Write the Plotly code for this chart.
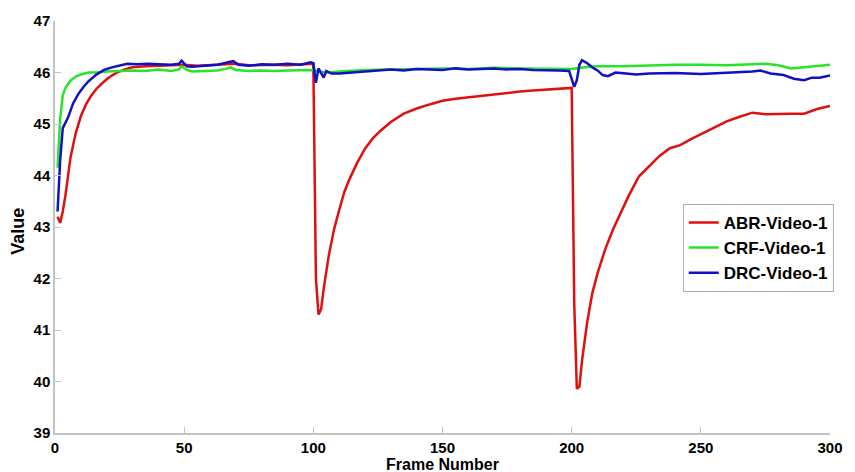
import plotly.graph_objects as go

# ---- data ----
abr_x = [1, 2, 3, 4, 6, 8, 10, 12, 14, 16, 18, 20, 22, 24, 27, 30, 35, 40, 45, 50,
         55, 60, 65, 70, 75, 80, 85, 90, 95, 100,
         101, 102, 103, 104, 106, 108, 110, 112, 114, 117, 120, 123, 126, 130, 135,
         140, 145, 150, 155, 160, 165, 170, 175, 180, 185, 190, 195, 200,
         201, 202, 203, 204, 206, 208, 210, 213, 216, 219, 222, 226, 230, 234, 238,
         242, 246, 250, 255, 260, 265, 270, 275, 280, 285, 290, 295, 300]
abr_y = [43.2, 43.08, 43.3, 43.6, 44.35, 44.82, 45.15, 45.38, 45.55, 45.68, 45.78, 45.87,
         45.94, 46.0, 46.06, 46.1, 46.12, 46.13, 46.14, 46.15,
         46.13, 46.14, 46.15, 46.17, 46.14, 46.15, 46.15, 46.14, 46.15, 46.17,
         42.0, 41.3, 41.4, 41.8, 42.45, 42.95, 43.33, 43.68, 43.93, 44.25, 44.52, 44.72,
         44.87, 45.04, 45.2, 45.3, 45.38, 45.45, 45.49, 45.52, 45.55, 45.58, 45.6, 45.63,
         45.65, 45.67, 45.68, 45.7,
         41.5, 39.86, 39.9, 40.4, 41.15, 41.72, 42.1, 42.57, 42.95, 43.27, 43.6, 43.98,
         44.18, 44.38, 44.53, 44.59, 44.7, 44.8, 44.92, 45.05, 45.14, 45.22, 45.19, 45.2,
         45.2, 45.2, 45.29, 45.35]

crf_x = [1, 2, 3, 4, 6, 8, 10, 13, 16, 20, 25, 30, 35, 40, 45, 48, 49, 51, 53, 58, 63,
         66, 68, 70, 75, 80, 85, 90, 95, 100, 102, 105, 110, 115, 120, 130, 140, 150,
         160, 170, 180, 190, 200, 205, 210, 220, 230, 240, 250, 260, 270, 275, 280,
         285, 290, 295, 300]
crf_y = [44.15, 45.1, 45.55, 45.7, 45.84, 45.92, 45.96, 46.0, 46.0, 46.02, 46.03, 46.04,
         46.03, 46.06, 46.03, 46.06, 46.12, 46.05, 46.02, 46.03, 46.04, 46.07, 46.1,
         46.05, 46.03, 46.04, 46.03, 46.04, 46.04, 46.05, 46.02, 46.0, 46.02, 46.04,
         46.05, 46.06, 46.07, 46.08, 46.07, 46.09, 46.08, 46.07, 46.07, 46.1, 46.12,
         46.12, 46.14, 46.15, 46.15, 46.14, 46.16, 46.17, 46.14, 46.08, 46.1, 46.12,
         46.15]

drc_x = [1, 2, 3, 4, 5, 7, 9, 11, 13, 16, 19, 22, 25, 28, 32, 36, 40, 45, 48, 49, 51,
         53, 58, 63, 67, 69, 71, 75, 80, 85, 90, 95, 99, 100, 101, 102, 104, 105, 107,
         110, 115, 120, 125, 130, 135, 140, 145, 150, 155, 160, 165, 170, 175, 180,
         185, 190, 195, 199, 201, 202, 203, 204, 206, 208, 210, 212, 214, 217, 220,
         225, 230, 240, 250, 260, 265, 270, 273, 277, 282, 286, 290, 293, 296, 300]
drc_y = [43.3, 44.3, 44.92, 45.02, 45.12, 45.4, 45.58, 45.72, 45.83, 45.96, 46.05, 46.1,
         46.14, 46.17, 46.16, 46.17, 46.16, 46.15, 46.17, 46.23, 46.12, 46.11, 46.13,
         46.15, 46.2, 46.22, 46.15, 46.13, 46.16, 46.15, 46.17, 46.15, 46.2, 46.18,
         45.8, 46.08, 45.9, 46.03, 45.98, 45.98, 46.0, 46.02, 46.03, 46.06, 46.04,
         46.07, 46.06, 46.05, 46.08, 46.06, 46.07, 46.08, 46.06, 46.07, 46.05, 46.05,
         46.04, 46.03, 45.72, 45.85, 46.15, 46.24, 46.18, 46.1, 46.04, 45.95, 45.93,
         46.0, 45.98, 45.96, 45.98, 45.99, 45.97, 45.99, 46.0, 46.02, 46.04, 45.98,
         45.95, 45.88, 45.85, 45.9, 45.9, 45.94]

series_names = ["ABR-Video-1", "CRF-Video-1", "DRC-Video-1"]
x_ticks = [0, 50, 100, 150, 200, 250, 300]
y_ticks = [39, 40, 41, 42, 43, 44, 45, 46, 47]

FONT = "Arial, Liberation Sans, sans-serif"
colors = ["rgb(222,16,16)", "rgb(40,228,40)", "rgb(16,16,196)"]

fig = go.Figure()
for name, xs, ys, c in zip(series_names, [abr_x, crf_x, drc_x],
                           [abr_y, crf_y, drc_y], colors):
    fig.add_trace(go.Scatter(x=xs, y=ys, mode="lines", name=name,
                             line=dict(color=c, width=2.5)))

axis_common = dict(showgrid=False, zeroline=False, showline=True,
                   linecolor="#c4c4c4", linewidth=1.5, ticks="inside",
                   ticklen=6, tickcolor="#c4c4c4", tickwidth=1.2,
                   tickfont=dict(family=FONT, size=15, color="black", weight="bold"))

fig.update_layout(
    width=855, height=472,
    margin=dict(l=55, r=18, t=16, b=39),
    plot_bgcolor="white", paper_bgcolor="white",
    xaxis=dict(range=[0, 300], tickvals=x_ticks, **axis_common),
    yaxis=dict(range=[39, 47], tickvals=y_ticks, **axis_common),
    legend=dict(x=0.81, y=0.556, xanchor="left", yanchor="top",
                bgcolor="white", bordercolor="#b0b0b0", borderwidth=1,
                font=dict(family=FONT, size=17, color="black", weight="bold"),
                tracegroupgap=0, itemwidth=30),
    showlegend=True,
    annotations=[
        dict(text="Frame Number", xref="paper", yref="paper", x=0.5, y=-0.076,
             xanchor="center", yanchor="middle", showarrow=False,
             font=dict(family=FONT, size=16, color="black", weight="bold")),
        dict(text="Value", xref="paper", yref="paper", x=-0.047, y=0.49,
             xanchor="center", yanchor="middle", showarrow=False, textangle=-90,
             font=dict(family=FONT, size=18, color="black", weight="bold")),
    ],
)

fig.write_html("out.html")
